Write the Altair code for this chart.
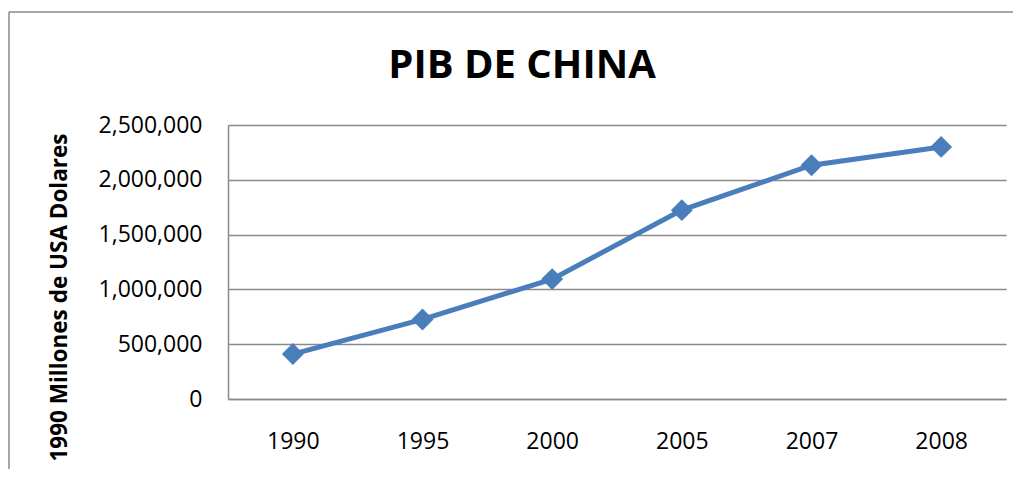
import altair as alt
import pandas as pd

years = ["1990", "1995", "2000", "2005", "2007", "2008"]
gdp = [410000, 726000, 1094000, 1723000, 2133000, 2300000]
y_ticks = [0, 500000, 1000000, 1500000, 2000000, 2500000]
title_text = "PIB DE CHINA"
y_title = "1990 Millones de USA Dolares"

df = pd.DataFrame({"year": years, "gdp": gdp})
one = pd.DataFrame({"t": [title_text]})

FONT = "Open Sans"
BLUE = "#4A7EBB"
GRAY = "#8a8a8a"

x_enc = alt.X("year:O", sort=years,
              axis=alt.Axis(title=None, labelAngle=0, ticks=False, domain=True,
                            domainColor=GRAY, domainWidth=1.5, grid=False,
                            labelFont=FONT, labelFontSize=23, labelColor="#000",
                            labelPadding=31))
y_enc = alt.Y("gdp:Q", scale=alt.Scale(domain=[0, 2500000], nice=False),
              axis=alt.Axis(values=y_ticks, format=",d", ticks=False,
                            domain=True, domainColor=GRAY, domainWidth=1.5,
                            grid=True, gridColor=GRAY, gridWidth=1.5,
                            labelFont=FONT, labelFontSize=23, labelColor="#000",
                            labelPadding=26,
                            title=y_title, titleFont=FONT, titleFontSize=22.5,
                            titleFontWeight="bold", titleColor="#000",
                            titleAngle=270, titleX=-169, titleY=172,
                            titleAlign="center", titleBaseline="middle"))

base = alt.Chart(df)
line = base.mark_line(color=BLUE, strokeWidth=5).encode(x=x_enc, y=y_enc)
pts = base.mark_point(shape="diamond", size=480, filled=True, color=BLUE,
                      opacity=1).encode(x="year:O", y="gdp:Q")

title = alt.Chart(one).mark_text(font=FONT, fontSize=40, fontWeight="bold",
                                 color="#000", align="center",
                                 baseline="alphabetic").encode(
    text="t:N", x=alt.value(294), y=alt.value(-47))

border_top = alt.Chart(one).mark_rule(color=GRAY, strokeWidth=1.5).encode(
    x=alt.value(-219), x2=alt.value(820), y=alt.value(-113))
border_left = alt.Chart(one).mark_rule(color=GRAY, strokeWidth=1.5).encode(
    x=alt.value(-219), y=alt.value(-113), y2=alt.value(400))

chart = alt.layer(border_top, border_left, line, pts, title).properties(
    width=778, height=274,
    autosize=alt.AutoSizeParams(type="none"),
    padding={"left": 220, "top": 117, "right": 7, "bottom": 70},
).configure_view(stroke=None)

chart.save("out.html", embed_options={"renderer": "svg", "actions": False})
